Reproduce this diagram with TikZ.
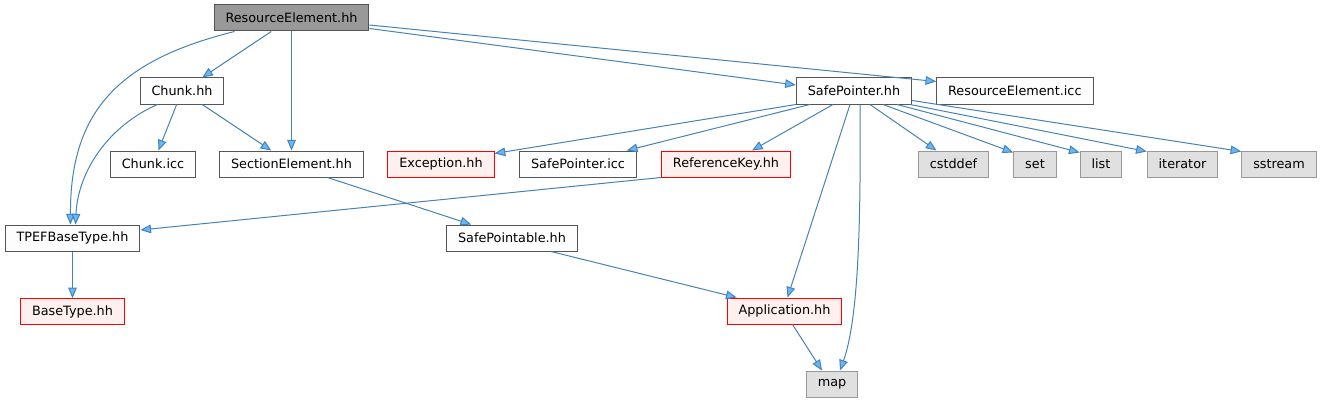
\documentclass[tikz,border=0pt]{standalone}
\usepackage{fontspec}
\setmainfont{DejaVu Sans}
\usetikzlibrary{arrows.meta,positioning,calc}
\definecolor{edgeblue}{HTML}{4682B4}
\definecolor{tipblue}{HTML}{63B8FF}
\definecolor{rootgray}{HTML}{999999}
\definecolor{boxborder}{HTML}{555555}
\definecolor{boxfill}{HTML}{FCFDFC}
\definecolor{redfill}{HTML}{FFF0F0}
\definecolor{sysfill}{HTML}{E0E0E0}
\definecolor{sysborder}{HTML}{999999}
\tikzset{
  filebox/.style={draw=boxborder,fill=boxfill,line width=0.75pt,
    minimum height=19.5pt,inner xsep=8.6pt,inner ysep=0pt,
    font=\fontsize{9.6}{11}\selectfont},
  rootbox/.style={filebox,fill=rootgray},
  redbox/.style={filebox,draw=red,fill=redfill},
  sysbox/.style={filebox,draw=sysborder,fill=sysfill},
  incarrow/.style={-{Triangle[length=8pt,width=6.5pt,fill=tipblue]},
    draw=edgeblue,line width=0.75pt}
}
\begin{document}
\begin{tikzpicture}[x=0.75pt,y=-0.75pt]
\useasboundingbox (0,0) rectangle (1323,403);
% files
\node[rootbox] (re) at (291.5,18) {ResourceElement.hh};
\node[filebox] (chunk) at (182,91) {Chunk.hh};
\node[filebox] (sp) at (854,91) {SafePointer.hh};
\node[filebox,right=18pt of sp] (reicc) {ResourceElement.icc};
\node[filebox] (chunkicc) at (153,164) {Chunk.icc};
\node[filebox] (secel) at (291.5,164) {SectionElement.hh};
\node[redbox] (exc) at (441,164) {Exception.hh};
\node[filebox] (spicc) at (578,164) {SafePointer.icc};
\node[redbox] (refkey) at (726,164) {ReferenceKey.hh};
\node[sysbox] (cstddef) at (953.5,164) {cstddef};
\node[sysbox] (set) at (1035,164) {set};
\node[sysbox] (list) at (1101,164) {list};
\node[sysbox] (iter) at (1182.5,164) {iterator};
\node[sysbox] (sstream) at (1279,164) {sstream};
\node[filebox] (tpef) at (72.5,238) {TPEFBaseType.hh};
\node[filebox] (sptable) at (512,238) {SafePointable.hh};
\node[redbox,below=35pt of tpef] (basetype) {BaseType.hh};
\node[redbox] (app) at (784.5,311) {Application.hh};
\node[sysbox] (map) at (832,384) {map};
% includes
\draw[incarrow] (re) -- (chunk);
\draw[incarrow] (re) -- (secel);
\draw[incarrow] ($(re.south west)+(21,0)$) .. controls (120,60) and (70,110) .. ($(tpef.north)+(-2,0)$);
\draw[incarrow] ($(re.south east)+(0,-3)$) -- ($(sp.west)+(0,-6)$);
\draw[incarrow] ($(re.east)+(0,7)$) -- ($(reicc.north west)+(0,4)$);
\draw[incarrow] (chunk) -- (chunkicc);
\draw[incarrow] (chunk) -- (secel);
\draw[incarrow] ($(chunk.south west)+(18,0)$) .. controls (110,125) and (78,170) .. ($(tpef.north)+(3,0)$);
\draw[incarrow] (secel.south) ++(36,0) -- ($(sptable.north west)+(25,0)$);
\draw[incarrow] (sp.south west) -- ($(exc.north east)+(0,3)$);
\draw[incarrow] ($(sp.south west)+(14,0)$) -- ($(spicc.north east)+(-10,0)$);
\draw[incarrow] ($(sp.south)+(-21,0)$) -- ($(refkey.north)+(26,0)$);
\draw[incarrow] ($(sp.south)+(-4,0)$) -- ($(app.north)+(3,0)$);
\draw[incarrow] ($(sp.south)+(6,0)$) .. controls (861,230) and (858,320) .. ($(map.north)+(8,0)$);
\draw[incarrow] ($(sp.south)+(16,0)$) -- ($(cstddef.north)+(-17,0)$);
\draw[incarrow] ($(sp.south)+(29,0)$) -- ($(set.north west)+(0,2)$);
\draw[incarrow] ($(sp.south)+(43,0)$) -- ($(list.north west)+(0,2)$);
\draw[incarrow] ($(sp.south east)+(-2,0)$) -- ($(iter.north west)+(0,1)$);
\draw[incarrow] ($(sp.south east)+(0,-4)$) -- ($(sstream.north west)+(0,1)$);
\draw[incarrow] (refkey.south west) -- ($(tpef.east)+(0,-8)$);
\draw[incarrow] (tpef) -- (basetype);
\draw[incarrow] ($(sptable.south)+(39,0)$) -- ($(app.north west)+(10,0)$);
\draw[incarrow] ($(app.south)+(8,0)$) -- ($(map.north)+(-10,0)$);
\end{tikzpicture}
\end{document}
